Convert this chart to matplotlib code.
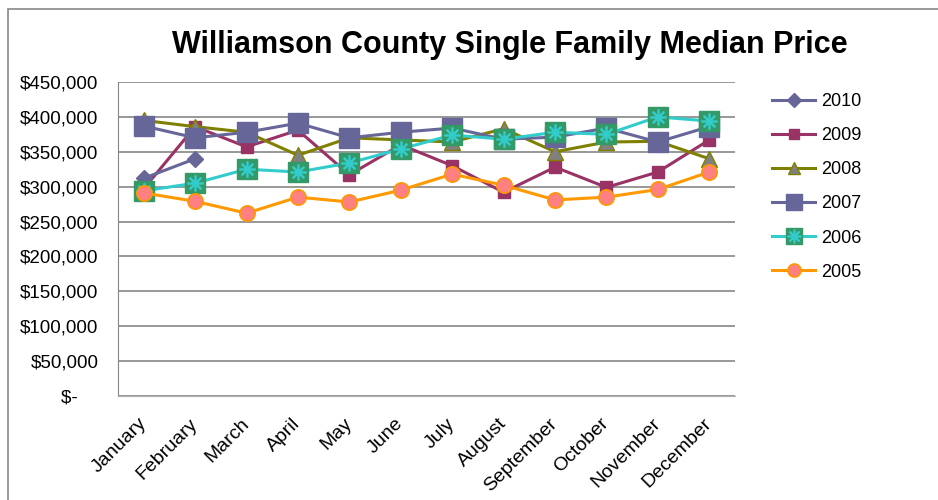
import matplotlib
matplotlib.use("Agg")
import matplotlib.pyplot as plt
from matplotlib.patches import Rectangle
from matplotlib.legend_handler import HandlerTuple

plt.rcParams['font.family'] = ['Liberation Sans', 'DejaVu Sans']

months = ["January", "February", "March", "April", "May", "June", "July",
          "August", "September", "October", "November", "December"]
s2010 = [312000, 340000]
s2009 = [297000, 386000, 357000, 381000, 317000, 360000, 330000, 292000, 328000, 299000, 321000, 367000]
s2008 = [395000, 386000, 378000, 345000, 370000, 367000, 364000, 383000, 350000, 364000, 365000, 340000]
s2007 = [387000, 370000, 378000, 391000, 370000, 378000, 384000, 368000, 371000, 384000, 364000, 386000]
s2006 = [294000, 305000, 325000, 321000, 334000, 354000, 374000, 368000, 378000, 375000, 400000, 394000]
s2005 = [291000, 279000, 262000, 285000, 278000, 295000, 318000, 302000, 281000, 285000, 296000, 321000]
yticks = [0, 50000, 100000, 150000, 200000, 250000, 300000, 350000, 400000, 450000]
ytick_labels = ["$-    ", "$50,000", "$100,000", "$150,000", "$200,000", "$250,000",
                "$300,000", "$350,000", "$400,000", "$450,000"]

fig = plt.figure(figsize=(9.38, 5.0), dpi=100)
fig.patches.append(Rectangle((8/938, -0.1), 2, 1.1 - 9/500, transform=fig.transFigure,
                             fill=False, edgecolor='#878787', linewidth=1.2))
ax = fig.add_axes([118/938, 1 - 396/500, (735 - 118)/938, (396 - 82)/500])

x = list(range(12))
lw = 2.2
h10, = ax.plot(x[:len(s2010)], s2010, color='#666699', lw=lw, marker='D', ms=8,
               mfc='#666699', mec='#666699', zorder=6)
h09, = ax.plot(x, s2009, color='#993366', lw=lw, marker='s', ms=9,
               mfc='#993366', mec='#993366', zorder=3)
h08, = ax.plot(x, s2008, color='#808000', lw=lw, marker='^', ms=11,
               mfc='#808080', mec='#808000', zorder=4)
h07, = ax.plot(x, s2007, color='#666699', lw=lw, marker='s', ms=14,
               mfc='#666699', mec='#666699', zorder=5)
h06, = ax.plot(x, s2006, color='#33CCCC', lw=lw, marker='s', ms=14,
               mfc='#339966', mec='#339966', zorder=6)
h06b, = ax.plot(x, s2006, lw=0, marker='$\u2733$', ms=11, mfc='#33CCCC', mec='#33CCCC',
                zorder=7)
h05, = ax.plot(x, s2005, color='#FF9900', lw=lw, marker='o', ms=11,
               mfc='#FF8080', mec='#FF9900', mew=1.2, zorder=8)

ax.set_xlim(-0.5, 11.5)
ax.set_ylim(0, 450000)
ax.set_yticks(yticks)
ax.set_yticklabels(ytick_labels, fontsize=13.5)
ax.set_xticks(x)
ax.set_xticklabels(months, rotation=45, ha='right', va='center',
                   rotation_mode='anchor', fontsize=14)
ax.tick_params(axis='y', length=0, pad=14)
ax.tick_params(axis='x', length=0, pad=18)
ax.grid(axis='y', color='#868686', lw=1.2)
ax.set_axisbelow(True)
for s in ['top', 'right']:
    ax.spines[s].set_visible(False)
ax.spines['left'].set_color('#868686')
ax.spines['bottom'].set_color('#b0b0b0')

leg = fig.legend([h10, h09, h08, h07, (h06, h06b), h05],
                 ['2010', '2009', '2008', '2007', '2006', '2005'],
                 handler_map={tuple: HandlerTuple(ndivide=1, pad=0)},
                 loc='upper left', bbox_to_anchor=(772/938, 1 - 93/500),
                 frameon=False, fontsize=13, handlelength=2.4, labelspacing=0.95,
                 handletextpad=0.3, markerscale=0.85, borderpad=0, borderaxespad=0)

fig.text(510/938, 1 - 45/500, "Williamson County Single Family Median Price",
         ha='center', va='center', fontsize=22, fontweight='bold')

fig.savefig("out.png", dpi=100)
